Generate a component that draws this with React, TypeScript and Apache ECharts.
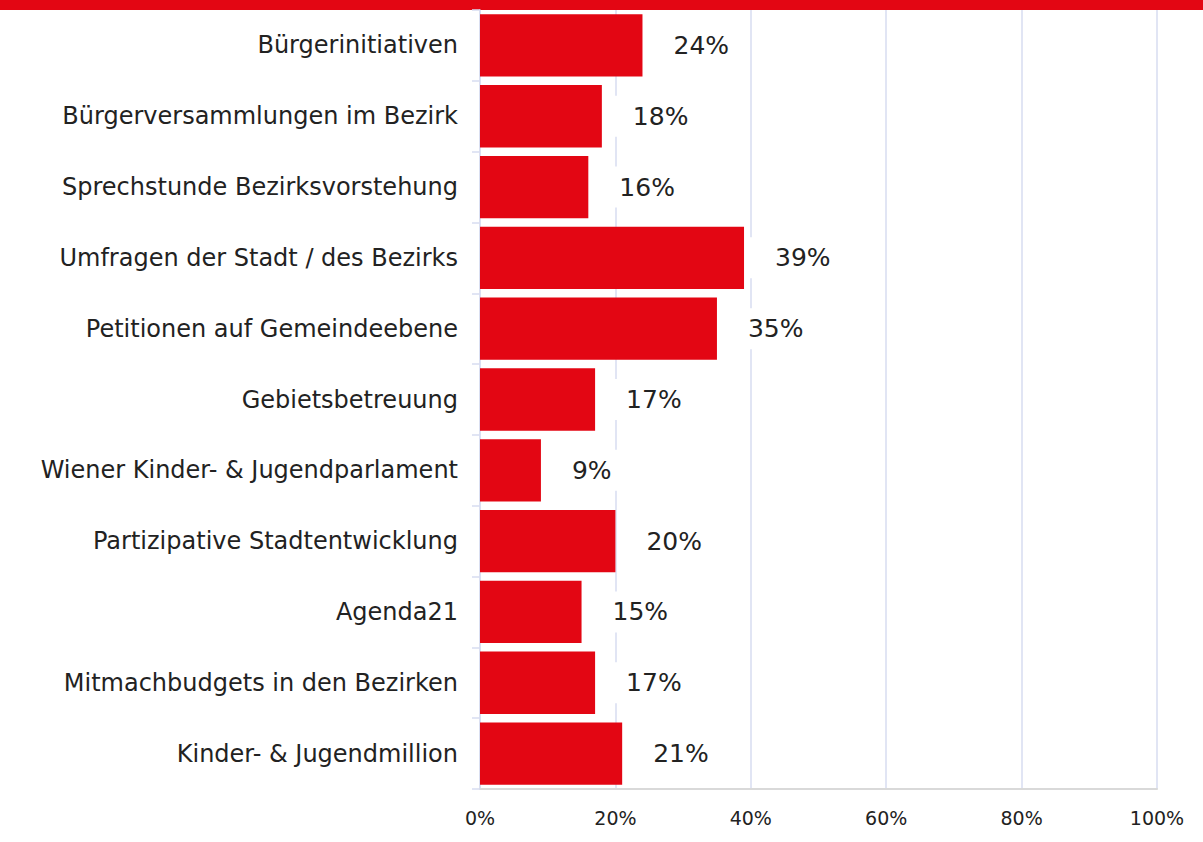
import React, { useEffect, useRef } from "react";
import * as echarts from "echarts";

const categories = [
  "Bürgerinitiativen",
  "Bürgerversammlungen im Bezirk",
  "Sprechstunde Bezirksvorstehung",
  "Umfragen der Stadt / des Bezirks",
  "Petitionen auf Gemeindeebene",
  "Gebietsbetreuung",
  "Wiener Kinder- & Jugendparlament",
  "Partizipative Stadtentwicklung",
  "Agenda21",
  "Mitmachbudgets in den Bezirken",
  "Kinder- & Jugendmillion",
];
const values = [24, 18, 16, 39, 35, 17, 9, 20, 15, 17, 21];

const FONT = "'DejaVu Sans', sans-serif";
const RED = "#e30613";

export default function App() {
  const ref = useRef<HTMLDivElement>(null);
  useEffect(() => {
    document.body.style.margin = "0";
    const chart = echarts.init(ref.current!, null, { renderer: "svg" });
    chart.setOption({
      animation: false,
      backgroundColor: "#ffffff",
      graphic: [
        { type: "rect", left: 0, top: 0, shape: { width: 1203, height: 10 }, style: { fill: RED } },
      ],
      grid: { left: 480, right: 46, top: 10, bottom: 53 },
      xAxis: {
        type: "value",
        min: 0,
        max: 100,
        interval: 20,
        axisLine: { show: true, lineStyle: { color: "#d9d9d9", width: 2 } },
        axisTick: { show: false },
        axisLabel: {
          formatter: "{value}%",
          fontFamily: FONT,
          fontSize: 19,
          color: "#222",
          margin: 19,
        },
        splitLine: { show: true, lineStyle: { color: "#d7dcf1", width: 1.5 } },
      },
      yAxis: {
        type: "category",
        data: categories,
        inverse: true,
        axisLine: { show: true, lineStyle: { color: "#d7dcf1", width: 1.5 } },
        axisTick: { show: true, length: 8, lineStyle: { color: "#d7dcf1", width: 1.5 } },
        axisLabel: {
          fontFamily: FONT,
          fontSize: 24,
          color: "#222",
          margin: 22,
        },
      },
      series: [
        {
          type: "bar",
          data: values,
          barCategoryGap: "12%",
          itemStyle: { color: RED },
          label: {
            show: true,
            position: "right",
            distance: 5,
            formatter: "{c}%",
            fontFamily: FONT,
            fontSize: 25,
            color: "#222",
            backgroundColor: "#ffffff",
            padding: [8, 6, 8, 26],
          },
        },
      ],
    });
    return () => chart.dispose();
  }, []);
  return <div ref={ref} style={{ width: 1203, height: 842 }} />;
}
